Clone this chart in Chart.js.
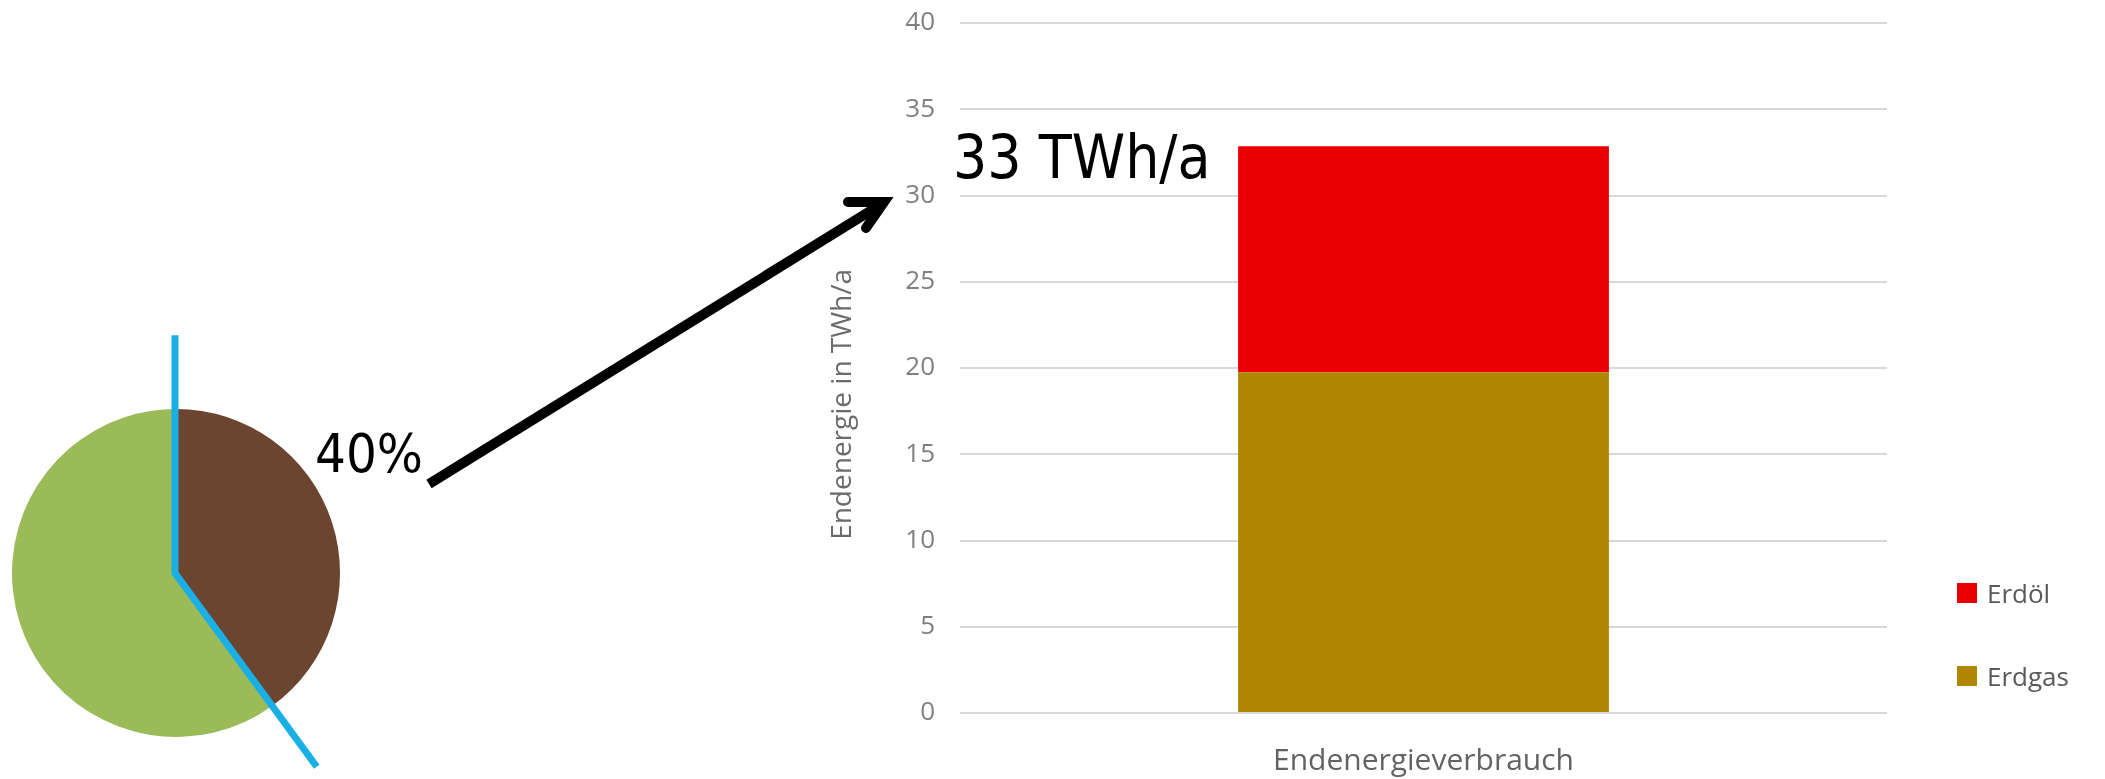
<!DOCTYPE html>
<html lang="de">
<head>
<meta charset="utf-8">
<title>Endenergieverbrauch</title>
<script src="https://cdn.jsdelivr.net/npm/chart.js@4.4.1/dist/chart.umd.min.js"></script>
<style>
  html, body { margin: 0; padding: 0; background: #fff; }
  #page { position: relative; width: 2105px; height: 779px; overflow: hidden; }
  canvas { position: absolute; }
  #pie { left: 0; top: 320px; }
  #bars { left: 800px; top: 0; }
  #arrow { position: absolute; left: 0; top: 0; }
  .note {
    position: absolute;
    font-family: "DejaVu Sans Condensed", "DejaVu Sans", sans-serif;
    font-stretch: condensed;
    line-height: 1;
    color: #000;
    white-space: nowrap;
  }
  #share { left: 315px; top: 427px; font-size: 54px; }
  #total { left: 953px; top: 127px; font-size: 60px; }
  .legend-item {
    position: absolute;
    left: 1957px;
    height: 26px;
    display: flex;
    align-items: center;
    font-family: "Open Sans", sans-serif;
    font-size: 26px;
    color: #595959;
    white-space: nowrap;
  }
  .legend-item .swatch { width: 20px; height: 20px; margin-right: 10px; display: inline-block; }
</style>
</head>
<body>
<div id="page">
  <canvas id="pie" width="360" height="459"></canvas>
  <canvas id="bars" width="1305" height="779"></canvas>
  <svg id="arrow" width="2105" height="779">
    <line x1="429" y1="484" x2="880" y2="205" stroke="#000" stroke-width="10"/>
    <polyline points="848,202 884,202 866,228" fill="none" stroke="#000" stroke-width="10"
              stroke-linecap="round" stroke-linejoin="miter"/>
  </svg>
  <div class="note" id="share"></div>
  <div class="note" id="total"></div>
  <div id="legend"></div>
</div>
<script>
// Values
const categories = ['Endenergieverbrauch'];
const erdgasValues = [19.75];
const erdoelValues = [13.1];
const seriesLabels = ['Erdgas', 'Erdöl'];
const seriesColors = ['#B08500', '#EA0000'];
const yTitle = 'Endenergie in TWh/a';
const yMin = 0;
const yMax = 40;
const yStep = 5;

const pieLabels = ['Erdöl und Erdgas', 'Übrige'];
const pieValues = [40, 60];
const pieColors = ['#6B452F', '#9BBB59'];

Chart.defaults.font.family = '"Open Sans", sans-serif';

// Annotation texts come from the data
document.getElementById('share').textContent = `${pieValues[0]}%`;
document.getElementById('total').textContent = `${Math.round(erdgasValues[0] + erdoelValues[0])} TWh/a`;

// Blue divider over the pie: straight up from the centre, then along the slice boundary
const dividerLine = {
  id: 'dividerLine',
  afterDatasetsDraw(chart) {
    const arc = chart.getDatasetMeta(0).data[0];
    const { x, y, outerRadius: r } = arc;
    const total = pieValues.reduce((s, v) => s + v, 0);
    const a = pieValues[0] / total * 2 * Math.PI;
    const ctx = chart.ctx;
    ctx.save();
    ctx.strokeStyle = '#1AAFE5';
    ctx.lineWidth = 7;
    ctx.lineJoin = 'miter';
    ctx.beginPath();
    ctx.moveTo(x - 1, y - 1.45 * r);
    ctx.lineTo(x - 1, y);
    ctx.lineTo(x + Math.sin(a) * 1.46 * r, y - Math.cos(a) * 1.46 * r);
    ctx.stroke();
    ctx.restore();
  }
};

new Chart(document.getElementById('pie'), {
  type: 'pie',
  data: {
    labels: pieLabels,
    datasets: [{ data: pieValues, backgroundColor: pieColors, borderWidth: 0, hoverOffset: 0 }]
  },
  options: {
    responsive: false,
    animation: false,
    devicePixelRatio: 1,
    layout: { padding: { left: 12, right: 20, top: 89, bottom: 42 } },
    plugins: { legend: { display: false }, tooltip: { enabled: false } }
  },
  plugins: [dividerLine]
});

const barChart = new Chart(document.getElementById('bars'), {
  type: 'bar',
  data: {
    labels: categories,
    datasets: [
      { label: seriesLabels[0], data: erdgasValues, backgroundColor: seriesColors[0], borderWidth: 0 },
      { label: seriesLabels[1], data: erdoelValues, backgroundColor: seriesColors[1], borderWidth: 0 }
    ]
  },
  options: {
    responsive: false,
    animation: false,
    devicePixelRatio: 1,
    datasets: { bar: { categoryPercentage: 1, barPercentage: 0.4 } },
    layout: { padding: { left: 0, top: 23, right: 218, bottom: 0 } },
    scales: {
      x: {
        stacked: true,
        grid: { display: false },
        border: { display: false },
        ticks: { color: '#636363', font: { size: 30 }, padding: 22 },
        afterFit: s => { s.height = 66; }
      },
      y: {
        stacked: true,
        min: yMin,
        max: yMax,
        ticks: { stepSize: yStep, color: '#808080', font: { size: 26 }, padding: 25 },
        grid: { color: '#D9D9D9', lineWidth: 2, drawTicks: false },
        border: { display: false },
        title: {
          display: true,
          text: yTitle + ' '.repeat(10),
          color: '#6B6B6B',
          font: { size: 28 },
          padding: { top: 26, bottom: 0 }
        },
        afterFit: s => {
          s.width = 160;
          s.paddingTop = 0;
        }
      }
    },
    plugins: {
      legend: { display: false },
      tooltip: { enabled: false }
    }
  }
});

// Legend built from the chart's own legend items, Erdöl on top like the original
const legendCenters = [593, 676];
const legendItems = Chart.defaults.plugins.legend.labels.generateLabels(barChart).reverse();
const legendBox = document.getElementById('legend');
legendItems.forEach((item, i) => {
  const row = document.createElement('div');
  row.className = 'legend-item';
  row.style.top = `${legendCenters[i] - 13}px`;
  const swatch = document.createElement('span');
  swatch.className = 'swatch';
  swatch.style.background = item.fillStyle;
  row.appendChild(swatch);
  row.appendChild(document.createTextNode(item.text));
  legendBox.appendChild(row);
});
</script>
</body>
</html>
